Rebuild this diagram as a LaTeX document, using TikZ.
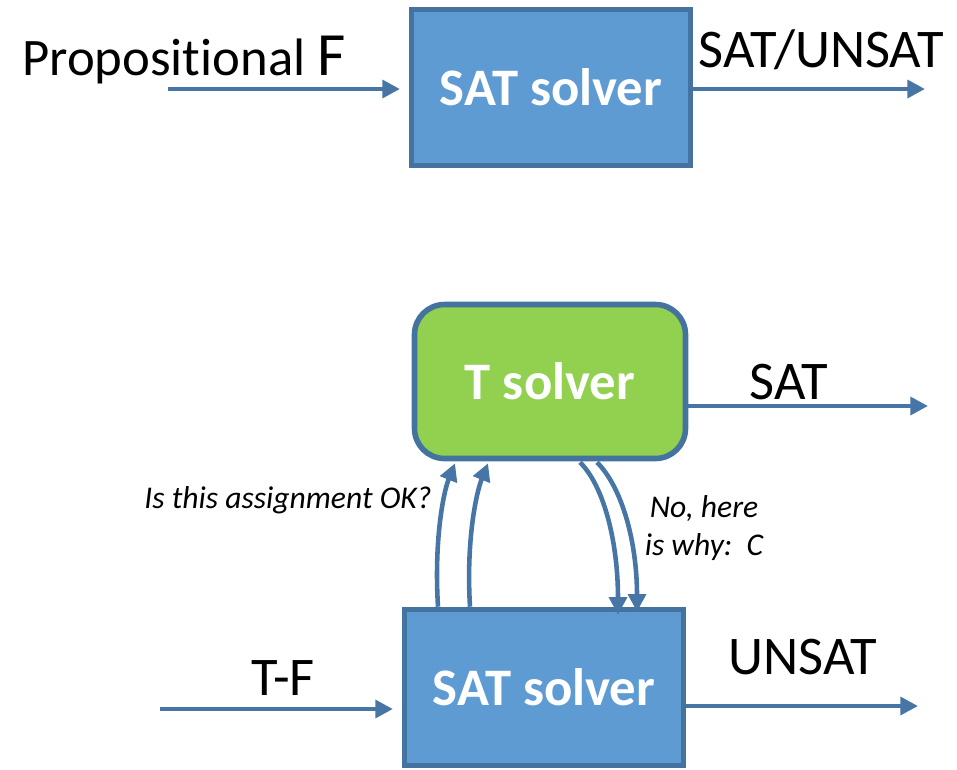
\documentclass[tikz,border=0pt]{standalone}
\usepackage{fontspec}
\setmainfont{Carlito}[Ligatures=NoCommon]
\usetikzlibrary{arrows.meta,calc}
\definecolor{boxblue}{HTML}{5E9BD2}
\definecolor{edgeblue}{HTML}{45739F}
\definecolor{lineblue}{HTML}{4675A6}
\definecolor{tgreen}{HTML}{92D050}
\tikzset{
  solverbox/.style={draw=edgeblue, line width=3.2pt, fill=boxblue, text=white,
    font=\fontsize{30}{33}\selectfont\bfseries, minimum width=5.58cm, minimum height=3.12cm},
  theorybox/.style={solverbox, fill=tgreen, rounded corners=0.6cm,
    minimum width=5.42cm, minimum height=3.08cm},
  flow/.style={draw=lineblue, line width=2.6pt, -{Triangle[length=10pt,width=10pt]}},
  biglabel/.style={font=\fontsize{31}{34}\selectfont, text=black},
  asklabel/.style={font=\fontsize{18}{22}\selectfont\itshape, text=black, align=center},
}
\begin{document}
\begin{tikzpicture}[x=0.02cm, y=-0.02cm]
\useasboundingbox (0,0) rectangle (957,769);

% plain SAT solving
\node[solverbox] (sat1) at (551,87.5) {SAT solver};
\coordinate (in1) at (168,89);
\coordinate (out1) at (925,89);
\node[biglabel, anchor=base west, font=\fontsize{30}{32}\selectfont] (lprop) at (16,75) {Propositional \fontsize{35}{35}\selectfont F};
\node[biglabel] (lsatunsat) at (821,50) {SAT/UNSAT};
\draw[flow, shorten >=5pt] (in1) -- (sat1.west |- in1);
\draw[flow] (sat1.east |- out1) -- (out1);

% SAT solver combined with a theory solver
\node[theorybox] (tsol) at (550,381.5) {T solver};
\node[solverbox] (sat2) at (544,687.5) {SAT solver};

\coordinate (tout) at (928,406);
\node[biglabel] (lsat) at (789,382) {SAT};
\draw[flow] (tsol.east |- tout) -- (tout);

\coordinate (in2) at (160,709);
\node[biglabel] (ltf) at (283,678) {T-F};
\draw[flow, shorten >=5pt] (in2) -- (sat2.west |- in2);

\coordinate (out2) at (918,706);
\node[biglabel] (lunsat) at (803,657) {UNSAT};
\draw[flow] (sat2.east |- out2) -- (out2);

% query: assignment sent up to the theory solver
\draw[flow] ($(sat2.north)+(-106,0)$) .. controls +(-4,-65) and +(-12,30) .. ($(tsol.south)+(-95,2)$);
\draw[flow] ($(sat2.north)+(-74,0)$) .. controls +(-4,-65) and +(-12,30) .. ($(tsol.south)+(-62,2)$);
\node[asklabel] (lask) at (288,500) {Is this assignment OK?};

% answer: conflict clause sent back down
\draw[flow] ($(tsol.south)+(30,1)$) .. controls +(25,25) and +(0,-70) .. ($(sat2.north)+(74,8)$);
\draw[flow] ($(tsol.south)+(47,1)$) .. controls +(25,25) and +(0,-70) .. ($(sat2.north)+(93,5)$);
\node[asklabel] (lwhy) at (704,528) {No, here\\is why:~~C};
\end{tikzpicture}
\end{document}
